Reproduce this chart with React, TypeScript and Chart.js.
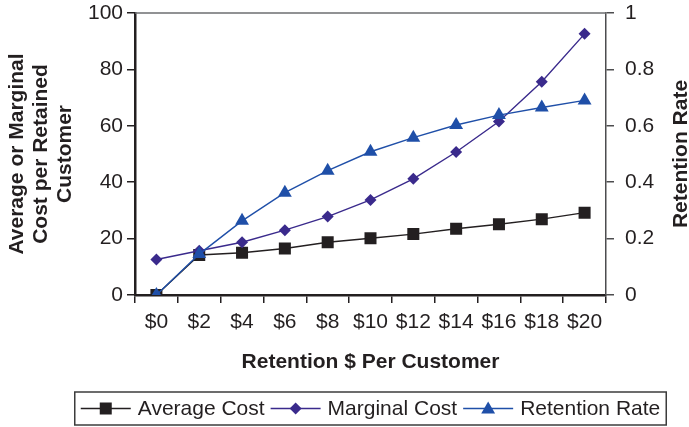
import React, { useEffect, useRef } from 'react';
import { Chart, registerables } from 'chart.js';

Chart.register(...registerables);

const categories = ['$0', '$2', '$4', '$6', '$8', '$10', '$12', '$14', '$16', '$18', '$20'];
const averageCost = [0, 14.2, 15, 16.5, 18.7, 20.1, 21.6, 23.5, 25.1, 26.9, 29.2];
const marginalCost = [12.6, 15.7, 18.7, 23, 27.8, 33.7, 41.2, 50.7, 61.5, 75.6, 92.6];
const retentionRate = [0, 0.145, 0.263, 0.363, 0.441, 0.508, 0.558, 0.603, 0.638, 0.665, 0.69];
const seriesNames = ['Average Cost', 'Marginal Cost', 'Retention Rate'];
const leftAxisTitle = ['Average or Marginal', 'Cost per Retained', 'Customer'];
const rightAxisTitle = 'Retention Rate';
const xAxisTitle = 'Retention $ Per Customer';

const FONT = '"Liberation Sans", Arial, Helvetica, sans-serif';
const TEXT = '#231f20';
const C_AVG = '#231f20';
const C_MARG = '#3a2a8c';
const C_RET = '#1f4fa8';

function drawMarker(ctx: CanvasRenderingContext2D, kind: string, x: number, y: number, color: string) {
  ctx.fillStyle = color;
  ctx.beginPath();
  if (kind === 'rect') {
    ctx.rect(x - 6, y - 6, 12, 12);
  } else if (kind === 'rectRot') {
    ctx.moveTo(x, y - 6);
    ctx.lineTo(x + 6, y);
    ctx.lineTo(x, y + 6);
    ctx.lineTo(x - 6, y);
    ctx.closePath();
  } else {
    const r = 8;
    ctx.moveTo(x, y - r);
    ctx.lineTo(x + r * 0.866, y + r / 2);
    ctx.lineTo(x - r * 0.866, y + r / 2);
    ctx.closePath();
  }
  ctx.fill();
}

const decorPlugin = {
  id: 'decor',
  afterDraw(chart: any) {
    const { ctx, chartArea } = chart;
    const { left, right, top, bottom } = chartArea;
    ctx.save();
    // top border
    ctx.strokeStyle = '#6d6e70';
    ctx.lineWidth = 1.5;
    ctx.beginPath();
    ctx.moveTo(left, top);
    ctx.lineTo(right, top);
    ctx.stroke();

    // right title (bottom-to-top)
    ctx.save();
    ctx.translate(chart.width - 8, (top + bottom) / 2);
    ctx.rotate(-Math.PI / 2);
    ctx.font = `bold 21px ${FONT}`;
    ctx.fillStyle = TEXT;
    ctx.textAlign = 'center';
    ctx.textBaseline = 'middle';
    ctx.fillText(rightAxisTitle, 0, 0);
    ctx.restore();

    // legend
    ctx.font = `21px ${FONT}`;
    const sampleW = 50;
    const gap = 7;
    const itemGap = 6;
    const pad = 6;
    const colors = [C_AVG, C_MARG, C_RET];
    const kinds = ['rect', 'rectRot', 'triangle'];
    const widths = seriesNames.map((n) => sampleW + gap + ctx.measureText(n).width);
    const total = widths.reduce((a, b) => a + b, 0) + itemGap * (widths.length - 1);
    const cx = (left + right) / 2;
    const boxL = cx - total / 2 - pad;
    const boxW = total + pad * 2;
    const boxT = chart.height - 35;
    const boxH = 33;
    ctx.strokeStyle = '#3c3c3c';
    ctx.lineWidth = 1.5;
    ctx.strokeRect(boxL, boxT, boxW, boxH);
    let x = boxL + pad;
    const y = boxT + boxH / 2;
    seriesNames.forEach((name, i) => {
      ctx.strokeStyle = colors[i];
      ctx.lineWidth = 1.5;
      ctx.beginPath();
      ctx.moveTo(x, y);
      ctx.lineTo(x + sampleW, y);
      ctx.stroke();
      drawMarker(ctx, kinds[i], x + sampleW / 2, i === 2 ? y + 1 : y, colors[i]);
      ctx.fillStyle = TEXT;
      ctx.textAlign = 'left';
      ctx.textBaseline = 'middle';
      ctx.fillText(name, x + sampleW + gap, y + 1);
      x += widths[i] + itemGap;
    });
    ctx.restore();
  },
};

export default function App() {
  const ref = useRef<HTMLCanvasElement | null>(null);
  useEffect(() => {
    if (!ref.current) return;
    const chart = new Chart(ref.current, {
      type: 'line',
      data: {
        labels: categories,
        datasets: [
          {
            label: seriesNames[0],
            data: averageCost,
            yAxisID: 'y',
            borderColor: C_AVG,
            backgroundColor: C_AVG,
            borderWidth: 1.4,
            pointStyle: 'rect',
            pointRadius: 8.5,
            pointBorderWidth: 0,
            order: 3,
          },
          {
            label: seriesNames[1],
            data: marginalCost,
            yAxisID: 'y',
            borderColor: C_MARG,
            backgroundColor: C_MARG,
            borderWidth: 1.4,
            pointStyle: 'rectRot',
            pointRadius: 6,
            pointBorderWidth: 0,
            order: 2,
          },
          {
            label: seriesNames[2],
            data: retentionRate,
            yAxisID: 'y1',
            borderColor: C_RET,
            backgroundColor: C_RET,
            borderWidth: 1.4,
            pointStyle: 'triangle',
            pointRadius: 8,
            pointBorderWidth: 0,
            order: 1,
          },
        ],
      },
      options: {
        animation: false,
        responsive: false,
        maintainAspectRatio: false,
        layout: { padding: { top: 13, bottom: 52, left: 0, right: 0 } },
        plugins: { legend: { display: false }, tooltip: { enabled: false } },
        scales: {
          x: {
            type: 'category',
            offset: true,
            grid: { offset: true, drawOnChartArea: false, color: '#231f20', tickLength: 8, lineWidth: 1.5 },
            border: { color: '#231f20', width: 2.5 },
            ticks: { color: TEXT, font: { family: FONT, size: 21 }, padding: 7, maxRotation: 0, autoSkip: false },
            title: {
              display: true,
              text: xAxisTitle,
              color: TEXT,
              font: { family: FONT, size: 21, weight: 'bold' },
              padding: { top: 0, bottom: 0 },
            },
            afterFit: (s: any) => {
              s.height = 80;
              s.paddingLeft = 0;
              s.paddingRight = 0;
            },
          },
          y: {
            position: 'left',
            min: 0,
            max: 100,
            ticks: { stepSize: 20, color: TEXT, font: { family: FONT, size: 21 }, padding: 4 },
            grid: { drawOnChartArea: false, color: '#231f20', tickLength: 8, lineWidth: 1.5 },
            border: { color: '#231f20', width: 2.5 },
            title: {
              display: true,
              text: leftAxisTitle,
              color: TEXT,
              font: { family: FONT, size: 21, weight: 'bold', lineHeight: 1.15 },
              padding: { top: 5, bottom: 0 },
            },
            afterFit: (s: any) => {
              s.width = 135;
              s.paddingTop = 0;
              s.paddingBottom = 0;
            },
          },
          y1: {
            position: 'right',
            min: 0,
            max: 1,
            ticks: {
              stepSize: 0.2,
              color: TEXT,
              font: { family: FONT, size: 21 },
              padding: 11,
              callback: (v: any) => String(Math.round(Number(v) * 10) / 10),
            },
            grid: { drawOnChartArea: false, color: '#4d4d4f', tickLength: 8, lineWidth: 1.5 },
            border: { color: '#4d4d4f', width: 1.5 },
            afterFit: (s: any) => {
              s.width = 83;
              s.paddingTop = 0;
              s.paddingBottom = 0;
            },
          },
        },
      },
      plugins: [decorPlugin],
    } as any);
    return () => chart.destroy();
  }, []);
  return (
    <div style={{ position: 'fixed', left: 0, top: 0, width: 689, height: 427, background: '#fff' }}>
      <canvas ref={ref} width={689} height={427} style={{ width: 689, height: 427, display: 'block' }} />
    </div>
  );
}
